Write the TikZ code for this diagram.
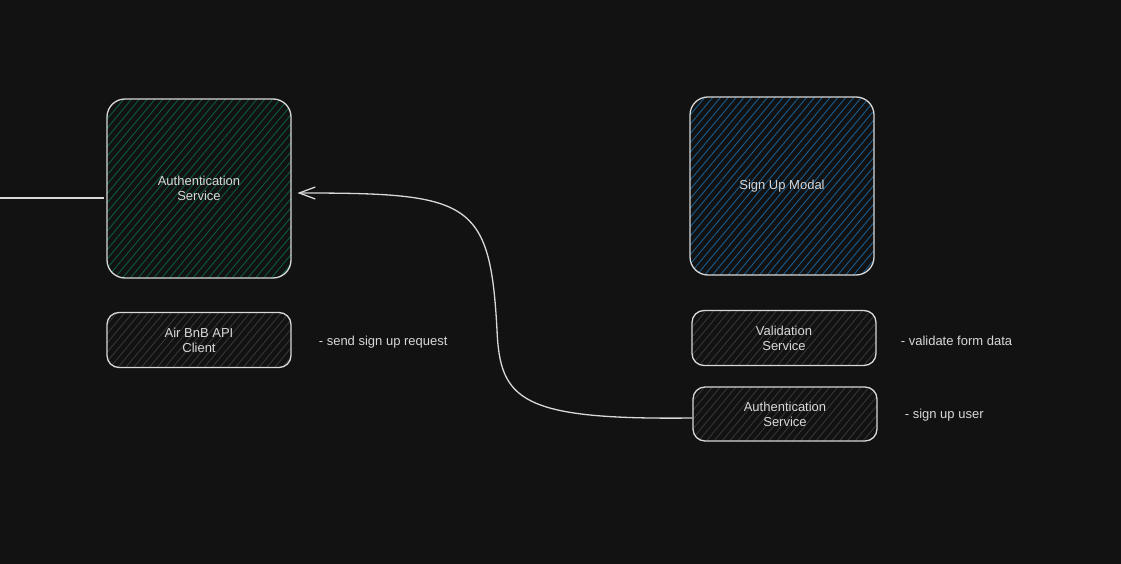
\documentclass[tikz,border=0pt]{standalone}
\usepackage{fontspec}
\setmainfont{Liberation Sans}
\usetikzlibrary{arrows.meta,positioning,patterns.meta}
\definecolor{canvas}{HTML}{121212}
\definecolor{ink}{HTML}{D8D8D8}
\definecolor{hatchgreen}{HTML}{0A5C3C}
\definecolor{hatchblue}{HTML}{185C90}
\definecolor{hatchgray}{HTML}{363636}

\begin{document}
\begin{tikzpicture}[x=1pt,y=-1pt]
\tikzset{every node/.style={text=ink,font=\fontsize{13}{15}\selectfont,align=center},
  box/.style={draw=ink,line width=1.3pt,rounded corners=12pt,minimum width=184pt,
    inner sep=0pt,pattern={Lines[angle=50,distance=6pt,line width=0.9pt]}},
  bigbox/.style={box,rounded corners=18pt},
  note/.style={inner sep=0pt,anchor=west},
  flow/.style={draw=ink,line width=1.3pt}}

\useasboundingbox (0,0) rectangle (1121,564);
\fill[canvas] (-3,-3) rectangle (1124,567);

\node[bigbox,pattern color=hatchgreen,minimum height=179pt] (authmain) at (199,188.5) {Authentication\\Service};
\node[bigbox,pattern color=hatchblue,minimum height=178pt] (signup) at (782,186) {Sign Up Modal};
\node[box,pattern color=hatchgray,minimum height=55pt] (apiclient) at (199,340) {Air BnB API\\Client};
\node[box,pattern color=hatchgray,minimum height=55pt] (validation) at (784,338) {Validation\\Service};
\node[box,pattern color=hatchgray,minimum height=54pt] (authsvc) at (785,414) {Authentication\\Service};

\node[note,right=27pt of apiclient,yshift=-2pt] (sendnote) {- send sign up request};
\node[note,right=24pt of validation,yshift=-3pt] (validnote) {- validate form data};
\node[note,right=27pt of authsvc,yshift=-1pt] (usernote) {- sign up user};

% line coming in from the left edge
\coordinate (leftend) at (0,198);
\draw[flow] (leftend) -- ([xshift=-3pt]leftend -| authmain.west);

% request back to the main authentication service
\coordinate (bend) at (497,330);
\draw[flow,-{Straight Barb[length=16pt,width=12pt]}] ([yshift=-4pt]authsvc.west)
  .. controls (520,420) and (500,400) .. (bend)
  .. controls (490,200) and (470,193) .. ([xshift=6pt,yshift=-4.5pt]authmain.east);

\end{tikzpicture}
\end{document}
